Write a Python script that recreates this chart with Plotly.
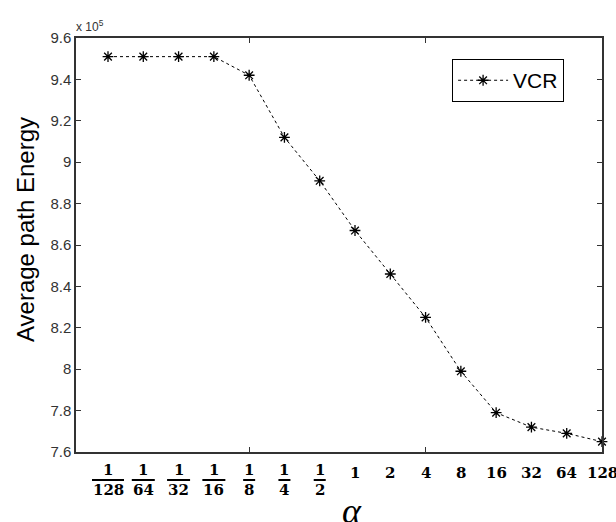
import plotly.graph_objects as go

# ---- data ----
alpha_labels = ["1/128", "1/64", "1/32", "1/16", "1/8", "1/4", "1/2",
                "1", "2", "4", "8", "16", "32", "64", "128"]
vcr_energy = [9.51, 9.51, 9.51, 9.51, 9.42, 9.12, 8.91, 8.67,
              8.46, 8.25, 7.99, 7.79, 7.72, 7.69, 7.65]  # x 10^5
y_ticks = [7.6, 7.8, 8.0, 8.2, 8.4, 8.6, 8.8, 9.0, 9.2, 9.4, 9.6]
y_tick_text = ["7.6", "7.8", "8", "8.2", "8.4", "8.6", "8.8", "9", "9.2", "9.4", "9.6"]
x_pos = list(range(1, len(alpha_labels) + 1))

fig = go.Figure()
fig.add_trace(go.Scatter(
    x=x_pos, y=vcr_energy, mode="lines+markers", name="VCR",
    line=dict(color="black", width=1, dash="3px,3px"),
    marker=dict(symbol="asterisk-open", size=9, color="black",
                line=dict(color="black", width=1.3)),
    cliponaxis=False,
))

BOT = 452  # pixel bottom of plot area
annotations = []
shapes = []
lab_font = dict(family="DejaVu Serif", size=15, color="black")
for xp, lab in zip(x_pos, alpha_labels):
    if "/" in lab:
        num, den = lab.split("/")
        annotations.append(dict(x=xp, y=0, xref="x", yref="paper", text="<b>%s</b>" % num,
                                showarrow=False, font=lab_font, yanchor="middle",
                                yshift=-(470 - BOT)))
        annotations.append(dict(x=xp, y=0, xref="x", yref="paper", text="<b>%s</b>" % den,
                                showarrow=False, font=lab_font, yanchor="middle",
                                yshift=-(490 - BOT)))
        w = {1: 12, 2: 23, 3: 32}[len(den)]
        shapes.append(dict(type="line", xref="x", yref="paper", xsizemode="pixel",
                           xanchor=xp, x0=-w / 2, x1=w / 2,
                           ysizemode="pixel", yanchor=0, y0=-(480 - BOT), y1=-(480 - BOT),
                           line=dict(color="black", width=2)))
    else:
        annotations.append(dict(x=xp, y=0, xref="x", yref="paper", text="<b>%s</b>" % lab,
                                showarrow=False, font=lab_font, yanchor="middle",
                                yshift=-(473 - BOT)))

# x-axis title (alpha)
annotations.append(dict(x=0.5, y=0, xref="paper", yref="paper", text="<i>α</i>",
                        showarrow=False, xshift=13, yshift=-(511 - BOT), yanchor="middle",
                        font=dict(family="Liberation Serif", size=36, color="black")))
# y-axis title
annotations.append(dict(x=0, y=0.5, xref="paper", yref="paper", text="Average path Energy",
                        showarrow=False, textangle=-90, xshift=-(76 - 25), yshift=15,
                        xanchor="center",
                        font=dict(family="Liberation Sans", size=24, color="black")))
# exponent
annotations.append(dict(x=0, y=1, xref="paper", yref="paper", text="x 10<sup>5</sup>",
                        showarrow=False, xanchor="left", yanchor="bottom", xshift=-2, yshift=2,
                        font=dict(family="Liberation Sans", size=12, color="#333333")))

fig.update_layout(
    width=616, height=522,
    margin=dict(l=76, r=14, t=38, b=70),
    paper_bgcolor="white", plot_bgcolor="white",
    showlegend=True,
    legend=dict(x=0.715, y=0.949, xanchor="left", yanchor="top",
                bordercolor="black", borderwidth=1, bgcolor="white",
                font=dict(family="Liberation Sans", size=21, color="black"),
                itemwidth=50, tracegroupgap=0),
    annotations=annotations,
    shapes=shapes,
)
fig.update_xaxes(range=[0.093, 15], showgrid=False, zeroline=False,
                 showline=True, linecolor="#333333", linewidth=1.5, mirror="ticks",
                 ticks="inside", ticklen=5, tickcolor="#333333",
                 tickvals=[5, 10], showticklabels=False)
fig.update_yaxes(range=[7.6, 9.6], showgrid=False, zeroline=False,
                 showline=True, linecolor="#333333", linewidth=1.5, mirror="ticks",
                 ticks="inside", ticklen=5, tickcolor="#333333",
                 tickvals=y_ticks, ticktext=y_tick_text,
                 tickfont=dict(family="Liberation Sans", size=15, color="#333333"))

fig.write_html("out.html", config={"displayModeBar": False},
               post_script="document.body.style.margin='0';document.body.style.overflow='hidden';")
